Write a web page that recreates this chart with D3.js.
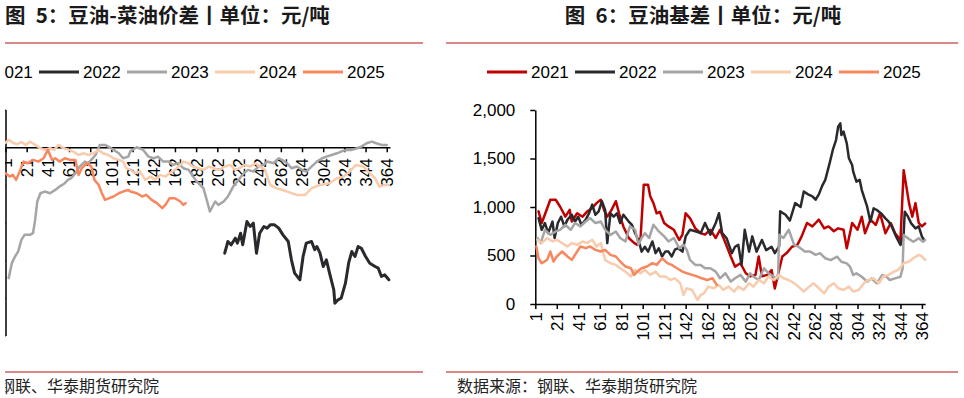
<!DOCTYPE html>
<html><head><meta charset="utf-8">
<script src="https://cdn.jsdelivr.net/npm/d3@7"></script>
<style>
body{margin:0;background:#fff;}
svg{display:block;}
</style></head>
<body><svg id="c" width="964" height="398"></svg>
<script>
// ---------- data ----------
const years = ["2021","2022","2023","2024","2025"];
const colors = ["#C00000","#2A2A2E","#A5A5A5","#F8CBAD","#F8875F"];
const xTickIndex = [0,20,40,60,80,100,120,140,160,180,200,220,240,260,280,300,320,340,360];
const xTickLabels = ["1","21","41","61","81","101","121","142","162","182","202","222","242","262","284","304","324","344","364"];

// Figure 5: soybean oil - rapeseed oil spread, [day index, value]
const spread2021 = [];
const spread2022 = [[207,-1406],[210,-1251],[213,-1295],[217,-1207],[219,-1273],[222,-1141],[224,-1295],[228,-986],[231,-1052],[234,-1008],[237,-1406],[240,-1141],[244,-1052],[247,-1074],[250,-1030],[254,-1030],[258,-1074],[262,-1163],[267,-1251],[270,-1494],[273,-1671],[278,-1759],[281,-1450],[284,-1273],[289,-1251],[292,-1361],[294,-1317],[297,-1406],[300,-1583],[303,-1494],[306,-1671],[310,-1892],[311,-2069],[314,-2025],[317,-2003],[321,-1804],[324,-1539],[327,-1384],[330,-1450],[333,-1317],[336,-1340],[340,-1450],[344,-1539],[349,-1583],[352,-1605],[355,-1715],[358,-1693],[362,-1759]];
const spread2023 = [[3,-1737],[6,-1538],[9,-1450],[12,-1383],[15,-1229],[18,-1162],[23,-1162],[26,-1140],[28,-964],[30,-720],[33,-610],[37,-588],[42,-610],[47,-566],[51,-522],[56,-477],[59,-433],[62,-411],[66,-345],[70,-256],[75,-190],[78,-212],[81,-168],[85,-102],[89,31],[94,31],[97,9],[102,-35],[107,-80],[111,-146],[116,-124],[118,-50],[124,0],[130,-35],[135,-124],[140,-146],[144,-124],[149,-190],[154,-190],[158,-234],[163,-212],[168,-278],[173,-300],[177,-389],[182,-477],[187,-544],[190,-698],[193,-853],[198,-720],[201,-765],[206,-720],[210,-654],[215,-522],[220,-433],[225,-345],[229,-300],[234,-322],[239,-256],[244,-234],[247,-190],[253,-212],[258,-146],[261,-168],[266,-212],[270,-278],[275,-256],[280,-300],[284,-322],[289,-256],[294,-190],[299,-146],[303,-124],[308,-102],[313,-80],[317,-57],[322,-35],[327,-35],[332,-13],[336,9],[341,53],[346,75],[350,53],[355,31],[360,31]];
const spread2024 = [[0,60],[3,100],[7,60],[11,40],[15,70],[19,30],[23,75],[28,31],[33,-13],[37,-35],[42,-13],[46,-35],[50,31],[55,-13],[60,-35],[64,-57],[69,-102],[74,-80],[78,-102],[83,-80],[88,-35],[92,-80],[97,-102],[102,-146],[107,-168],[111,-190],[114,-278],[118,-300],[122,-345],[127,-323],[132,-433],[137,-389],[141,-433],[146,-367],[151,-389],[155,-345],[160,-300],[165,-234],[168,-190],[173,-212],[177,-256],[182,-278],[187,-300],[192,-256],[196,-278],[202,-300],[207,-256],[212,-234],[217,-300],[221,-278],[226,-234],[231,-256],[236,-212],[240,-256],[245,-300],[250,-500],[256,-544],[266,-588],[275,-632],[283,-632],[289,-544],[297,-500],[306,-478],[313,-411],[319,-390],[325,-323],[331,-235],[338,-257],[344,-345],[349,-411],[353,-522],[358,-500],[362,-500]];
const spread2025 = [[0,-345],[4,-389],[7,-367],[10,-433],[14,-300],[17,-190],[21,-212],[26,-168],[31,-190],[36,-146],[40,-35],[44,-168],[47,-146],[51,-190],[56,-146],[61,-168],[66,-168],[69,-367],[72,-278],[77,-212],[81,-256],[84,-433],[88,-500],[91,-610],[94,-698],[98,-676],[102,-654],[107,-610],[111,-588],[116,-566],[118,-588],[124,-610],[129,-654],[133,-632],[138,-698],[143,-742],[148,-809],[151,-765],[155,-676],[160,-676],[165,-720],[168,-765],[170,-742]];

// Figure 6: soybean oil basis, [day index, value]
const basis2021 = [[3,955],[6,835],[14,1075],[19,1075],[23,1005],[28,900],[32,970],[34,850],[39,935],[44,900],[48,950],[53,990],[57,1040],[61,1075],[64,970],[67,900],[71,970],[75,1060],[78,935],[82,800],[87,680],[92,630],[95,610],[98,680],[101,1230],[105,1230],[107,1110],[110,1040],[113,935],[116,950],[120,835],[124,800],[129,765],[134,660],[137,715],[140,935],[144,885],[149,780],[154,730],[158,715],[163,765],[168,680],[172,765],[177,630],[182,490],[186,385],[191,420],[196,317],[200,285],[205,300],[208,490],[211,285],[216,300],[220,350],[223,160],[227,350],[230,490],[234,525],[239,590],[244,610],[248,697],[253,835],[258,800],[261,835],[264,870],[269,780],[273,800],[278,750],[282,780],[287,765],[290,575],[295,835],[300,765],[304,900],[307,730],[312,870],[317,815],[321,935],[326,730],[331,835],[335,730],[340,660],[343,1380],[348,1040],[351,900],[354,1040],[357,835],[360,800],[363,830]];
const basis2022 = [[3,885],[6,765],[9,835],[12,730],[16,850],[18,680],[21,835],[24,900],[27,800],[30,870],[34,920],[37,850],[40,900],[43,815],[47,870],[50,935],[53,1025],[56,920],[59,955],[62,1060],[65,970],[67,628],[70,935],[73,900],[76,935],[79,835],[82,920],[87,850],[90,815],[93,730],[96,660],[99,540],[102,590],[105,540],[109,645],[112,524],[115,575],[118,490],[121,540],[124,540],[127,490],[130,560],[133,575],[137,540],[140,697],[144,765],[149,750],[154,730],[158,835],[163,715],[168,835],[171,935],[174,730],[178,680],[183,524],[186,590],[189,610],[192,403],[195,765],[199,540],[202,697],[206,540],[211,660],[215,555],[220,590],[223,524],[227,593],[228,955],[233,920],[237,860],[242,1040],[247,1000],[250,1160],[254,1130],[258,1110],[261,1075],[264,1130],[267,1215],[270,1280],[274,1450],[277,1588],[280,1690],[282,1828],[284,1862],[285,1742],[287,1777],[290,1656],[292,1502],[295,1433],[296,1364],[299,1261],[302,1280],[304,1175],[307,1072],[309,1003],[312,849],[315,986],[318,969],[322,934],[326,883],[329,849],[332,797],[336,694],[340,608],[343,728],[344,952],[347,900],[350,831],[354,780],[357,800],[360,694],[362,660]];
const basis2023 = [[2,680],[5,628],[9,765],[14,713],[19,748],[23,765],[28,817],[33,765],[37,835],[42,800],[47,850],[51,886],[56,835],[61,850],[65,765],[70,713],[75,748],[79,680],[84,645],[88,800],[93,765],[96,610],[99,680],[102,730],[106,680],[110,817],[115,748],[120,697],[124,645],[129,680],[134,575],[138,610],[141,558],[144,455],[149,403],[154,403],[158,369],[163,369],[168,334],[172,265],[177,317],[182,231],[186,265],[191,300],[196,231],[200,317],[203,283],[208,248],[213,369],[217,317],[222,283],[226,260],[227,713],[231,680],[236,765],[241,610],[245,590],[251,540],[256,540],[261,507],[265,524],[270,472],[275,453],[281,488],[285,436],[290,419],[293,385],[296,299],[299,316],[304,281],[309,230],[313,264],[318,213],[323,299],[327,281],[330,247],[335,264],[340,281],[342,367],[343,711],[347,677],[352,642],[357,677],[361,642],[363,660]];
const basis2024 = [[2,662],[6,628],[11,680],[16,645],[20,662],[25,628],[30,593],[34,628],[39,610],[44,645],[48,628],[53,662],[57,593],[61,628],[65,455],[70,420],[75,403],[79,369],[84,334],[89,283],[93,352],[98,317],[102,352],[107,300],[112,334],[116,283],[121,283],[126,248],[130,265],[135,214],[138,93],[141,162],[146,145],[151,41],[154,93],[157,110],[161,179],[166,162],[171,196],[175,145],[180,179],[185,128],[189,179],[194,145],[199,214],[203,179],[208,248],[213,214],[217,283],[222,248],[227,300],[231,265],[236,248],[241,214],[245,179],[250,128],[255,179],[259,214],[264,162],[269,110],[273,179],[278,214],[282,162],[287,145],[292,179],[296,128],[301,145],[306,214],[310,248],[315,265],[320,214],[324,283],[329,300],[334,334],[338,352],[343,420],[348,438],[352,472],[357,507],[360,490],[363,455]];
const basis2025 = [[1,593],[3,472],[6,420],[11,455],[14,541],[17,438],[20,490],[25,541],[30,490],[34,455],[39,541],[42,593],[47,576],[51,593],[56,558],[61,541],[65,558],[70,507],[75,490],[79,438],[84,386],[89,369],[92,300],[95,334],[99,369],[104,386],[109,421],[113,403],[118,472],[123,421],[127,403],[132,369],[137,334],[141,317],[146,300],[151,283],[155,265],[160,248],[165,265],[169,197]];

// ---------- drawing ----------
const svg = d3.select("#c");
const numFont = "'Liberation Sans', Arial, sans-serif";
const cjkFont = "'Noto Sans CJK SC', sans-serif";

svg.append("defs").append("clipPath").attr("id","leftClip")
  .append("rect").attr("x",5).attr("y",0).attr("width",430).attr("height",398);

function drawPanel(cfg){
  const g = svg.append("g");
  if (cfg.clip) g.attr("clip-path","url(#"+cfg.clip+")");

  // title
  g.append("text").attr("x",cfg.titleX).attr("y",23)
    .attr("text-anchor",cfg.titleAnchor)
    .style("font-family",cjkFont).style("font-size","20.5px").style("font-weight","bold")
    .style("white-space","pre")
    .attr("fill","#1a1a1a").text(cfg.title);

  // red rules
  g.append("line").attr("x1",cfg.ruleX[0]).attr("x2",cfg.ruleX[1]).attr("y1",43).attr("y2",43)
    .attr("stroke","#cc6060").attr("stroke-width",1.5);
  g.append("line").attr("x1",cfg.ruleX[0]).attr("x2",cfg.ruleX[1]).attr("y1",372).attr("y2",372)
    .attr("stroke","#cc6060").attr("stroke-width",1.5);

  // source
  g.append("text").attr("x",cfg.sourceX).attr("y",392)
    .style("font-family",cjkFont).style("font-size","16px").attr("fill","#222")
    .text("数据来源：钢联、华泰期货研究院");

  // legend
  const lg = g.append("g");
  years.forEach((yr,i)=>{
    const x0 = cfg.legendX + i*88;
    lg.append("line").attr("x1",x0).attr("x2",x0+40).attr("y1",72).attr("y2",72)
      .attr("stroke",colors[i]).attr("stroke-width",3);
    lg.append("text").attr("x",x0+44).attr("y",78)
      .style("font-family",numFont).style("font-size","17px").attr("fill","#000").text(yr);
  });

  // scales
  const x = d3.scaleLinear().domain([0,363]).range(cfg.xRange);
  const y = d3.scaleLinear().domain(cfg.yDomain).range(cfg.yRange);

  // y axis
  const ya = g.append("g").attr("transform",`translate(${cfg.xRange[0]},0)`)
    .call(d3.axisLeft(y).tickValues(cfg.yTicks).tickFormat(d3.format(",")).tickSize(5).tickSizeOuter(0).tickPadding(15));
  ya.selectAll("text").style("font-family",numFont).style("font-size","17px").attr("fill","#000");
  ya.select(".domain").attr("stroke","#000").attr("stroke-width",1.5);
  ya.selectAll(".tick line").attr("stroke","#000").attr("stroke-width",1.5);

  // x axis
  const xa = g.append("g").attr("transform",`translate(0,${y(cfg.xAxisAt)})`)
    .call(d3.axisBottom(x).tickValues(xTickIndex).tickFormat((d,i)=>xTickLabels[i]).tickSize(5).tickSizeOuter(0));
  xa.select(".domain").attr("stroke","#000").attr("stroke-width",1.5);
  xa.selectAll(".tick line").attr("stroke","#000").attr("stroke-width",1.5);
  xa.selectAll("text")
    .attr("transform","rotate(-90)").attr("x",-cfg.labelGap).attr("y",0).attr("dy","0.35em")
    .style("text-anchor","end").style("font-family",numFont).style("font-size","17px").attr("fill","#000");

  // lines
  const line = d3.line().x(d=>x(d[0])).y(d=>y(d[1]));
  cfg.series.forEach((s,i)=>{
    if (!s.length) return;
    g.append("path").datum(s).attr("d",line).attr("fill","none")
      .attr("stroke",colors[i]).attr("stroke-width",cfg.widths[i])
      .attr("stroke-linejoin","round").attr("stroke-linecap","round");
  });
}

drawPanel({
  clip:"leftClip",
  title:"图\u20025：豆油-菜油价差丨单位：元/吨", titleX:5, titleAnchor:"start",
  ruleX:[5,423], sourceX:-81, legendX:-49,
  xRange:[5.5, 5.5+363*1.059], yDomain:[-2500,500], yRange:[335.6,109.6],
  yTicks:[-2500,-2000,-1500,-1000,-500,0,500], xAxisAt:0, labelGap:11,
  series:[spread2021,spread2022,spread2023,spread2024,spread2025],
  widths:[2.5,3,2.5,2.5,2.5]
});

drawPanel({
  clip:null,
  title:"图\u20026：豆油基差丨单位：元/吨", titleX:703, titleAnchor:"middle",
  ruleX:[446,958], sourceX:457, legendX:487,
  xRange:[535.3, 535.3+363*1.074], yDomain:[0,2000], yRange:[304,110],
  yTicks:[0,500,1000,1500,2000], xAxisAt:0, labelGap:8,
  series:[basis2021,basis2022,basis2023,basis2024,basis2025],
  widths:[2.5,2.5,2.5,2.5,2.5]
});
</script>
</body></html>
